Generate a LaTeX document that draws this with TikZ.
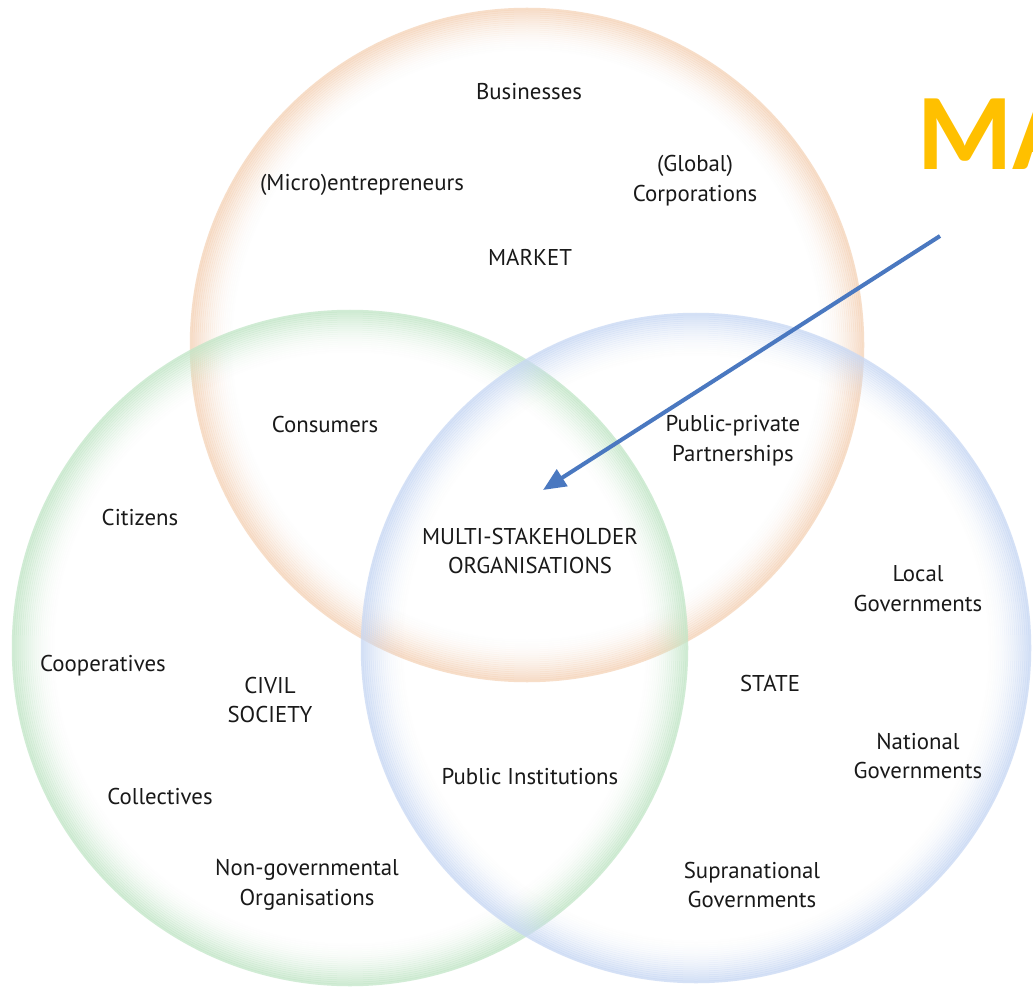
\documentclass[tikz,border=0pt]{standalone}
\usepackage{fontspec}
\usepackage{xcolor}
\usetikzlibrary{arrows.meta}
\setmainfont{PT Sans}
\newfontfamily\titlefont{Carlito}

\begin{document}
\begin{tikzpicture}[x=0.02cm,y=-0.02cm,
  lbl/.style={align=center,inner sep=1pt,text=black!90,font=\fontsize{13}{17}\selectfont},
  title/.style={anchor=base west,inner sep=0pt,text=gold,font=\titlefont\bfseries\fontsize{62}{62}\selectfont}]
\definecolor{marketrim}{HTML}{F5D3B8}
\definecolor{civilrim}{HTML}{C2E6C7}
\definecolor{staterim}{HTML}{C8D8F4}
\definecolor{gold}{HTML}{FFC000}
\definecolor{arrowblue}{HTML}{4A78C0}
\useasboundingbox[fill=white] (0,0) rectangle (1033,989);
% the three sets, a soft rim fading inwards
\foreach \clr/\cx/\cy/\r in {marketrim/527/345/337,civilrim/350/648/338,staterim/696/648/335}
{  \foreach \i in {0,...,21}
   {  \pgfmathsetmacro{\op}{0.75*(1-\i/22)^2}
      \draw[\clr,line width=0.05cm,draw opacity=\op] (\cx,\cy) circle[radius=\r-2*\i-1];}}
% labels
\foreach \nm/\px/\py/\txt in {
  businesses/529/92/{Businesses},
  micro/362/185/{(Micro)entrepreneurs},
  global/695/181/{(Global)\\Corporations},
  market/530/257/{MARKET},
  consumers/325/425/{Consumers},
  ppp/733/441/{Public-private\\Partnerships},
  citizens/140/518/{Citizens},
  multi/530/551/{MULTI-STAKEHOLDER\\ORGANISATIONS},
  local/918/589/{Local\\Governments},
  coop/103/666/{Cooperatives},
  civil/270/700/{CIVIL\\SOCIETY},
  state/770/683/{STATE},
  national/918/756/{National\\Governments},
  publicinst/530/777/{Public Institutions},
  collectives/160/796/{Collectives},
  ngo/307/885/{Non-governmental\\Organisations},
  supra/752/885/{Supranational\\Governments}}
{  \node[lbl] (\nm) at (\px,\py) {\txt};}
\node[title] (ma) at (917,170) {MA};
\coordinate (arrowstart) at (940,236);
\coordinate (arrowtip) at (543,490);
\draw[arrowblue,line width=2.3pt,-{Triangle[length=13pt,width=11pt]}] (arrowstart) -- (arrowtip);
\end{tikzpicture}
\end{document}
